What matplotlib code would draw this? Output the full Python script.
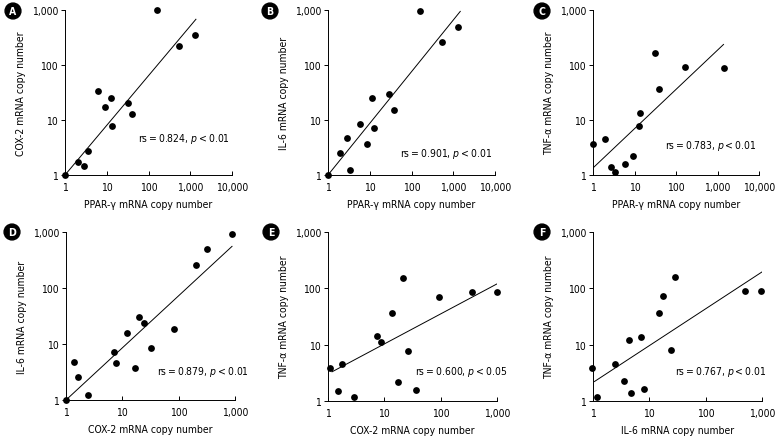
import numpy as np
from matplotlib import pyplot as plt
from matplotlib import font_manager
from matplotlib.ticker import FixedLocator, FixedFormatter, NullLocator

# pick a narrow sans if there is one
names = {(f.name, f.stretch) for f in font_manager.fontManager.ttflist}
fam_names = {n for n, s in names}
stretch = 'normal'
if 'Liberation Sans Narrow' in fam_names:
    fam = 'Liberation Sans Narrow'
elif ('DejaVu Sans', 'condensed') in names or ('DejaVu Sans', 'semi-condensed') in names:
    fam = 'DejaVu Sans'
    stretch = 'condensed'
else:
    fam = 'Roboto'

plt.rcParams['font.family'] = [fam, 'DejaVu Sans']
plt.rcParams['font.stretch'] = stretch
plt.rcParams['mathtext.fontset'] = 'custom'
plt.rcParams['mathtext.it'] = fam + ':italic'
plt.rcParams['mathtext.rm'] = fam

FS = 7.5

# ---- data ----
pparg_a = [1, 2.0, 2.9, 3.5, 6.1, 9.1, 12.7, 13.7, 32, 40, 158, 545, 1318]
cox2_a = [1, 1.7, 1.45, 2.7, 33, 17, 25, 7.7, 20, 12.6, 990, 223, 344]

pparg_b = [1, 1.9, 2.9, 3.3, 5.8, 8.6, 11.6, 12.7, 29.6, 37.7, 164, 535, 1270]
il6_b = [1, 2.5, 4.8, 1.23, 8.5, 3.6, 24.6, 7.2, 29.5, 15.4, 975, 260, 500]

pparg_c = [1, 1.9, 2.7, 3.4, 5.8, 9.1, 12.7, 13.5, 31, 39.5, 165, 1396]
tnfa_c = [3.7, 4.6, 1.38, 1.13, 1.6, 2.2, 7.8, 13.4, 162, 36.8, 91, 90]

cox2_d = [1, 1.4, 1.63, 2.5, 7.0, 7.6, 12.1, 16.6, 19.5, 24.2, 32.7, 82.6, 206, 318, 885]
il6_d = [1, 4.8, 2.6, 1.23, 7.2, 4.6, 15.5, 3.7, 30, 24, 8.6, 18.3, 254, 503, 933]

cox2_e = [1.1, 1.52, 1.77, 2.9, 7.4, 8.6, 13.7, 17.7, 21.7, 26.3, 36, 93, 365, 1000]
tnfa_e = [3.9, 1.5, 4.6, 1.16, 14.5, 11.3, 35.8, 2.2, 155, 7.8, 1.6, 70, 87, 87]

il6_f = [0.95, 1.18, 2.46, 3.5, 4.3, 4.7, 7.0, 8.1, 14.9, 17.7, 23.9, 29, 492, 947]
tnfa_f = [3.8, 1.18, 4.6, 2.3, 12.1, 1.4, 13.9, 1.64, 37, 74, 8.0, 161, 89.5, 89.5]

# regression lines in log-log space: log10(y) = icpt + slope*log10(x)
fit_lo = [1.0, 1.0, 1.04, 1.04, 1.18, 1.06]
fit_hi = [1368, 1472, 1397, 885, 986, 1000]
fit_slope = [0.903, 0.939, 0.714, 0.931, 0.533, 0.654]
fit_icpt = [0.0, 0.0, 0.128, 0.0, 0.48, 0.329]

rs_vals = ['0.824', '0.901', '0.783', '0.879', '0.600', '0.767']
p_vals = ['0.01', '0.01', '0.01', '0.01', '0.05', '0.01']
x_labels = ['PPAR-γ mRNA copy number'] * 3 + ['COX-2 mRNA copy number'] * 2 + ['IL-6 mRNA copy number']
y_labels = ['COX-2 mRNA copy number', 'IL-6 mRNA copy number', 'TNF-α mRNA copy number',
            'IL-6 mRNA copy number', 'TNF-α mRNA copy number', 'TNF-α mRNA copy number']
panel_letters = ['A', 'B', 'C', 'D', 'E', 'F']

xs = [pparg_a, pparg_b, pparg_c, cox2_d, cox2_e, il6_f]
ys = [cox2_a, il6_b, tnfa_c, il6_d, tnfa_e, tnfa_f]

# layout (pixels: left, right, top, bottom)
W, H = 777, 439
boxes = [(65, 232, 11, 176), (328, 495, 11, 176), (593, 759, 11, 176),
         (66, 235, 233, 401), (328, 497, 233, 402), (593, 762, 233, 402)]
text_pos = [(0.437, 0.224), (0.431, 0.133), (0.434, 0.18),
            (0.54, 0.173), (0.515, 0.178), (0.485, 0.178)]
letter_pos = [(13, 12), (270, 12), (542, 12), (12, 233), (271, 233), (542, 233)]

fig = plt.figure(figsize=(W / 100, H / 100), dpi=100)
th = '\u2009'

for i in range(6):
    l, r, t, b = boxes[i]
    ax = fig.add_axes([l / W, 1 - b / H, (r - l) / W, (b - t) / H])
    ax.set_xscale('log')
    ax.set_yscale('log')
    xmax = 10000 if i < 3 else 1000
    ax.set_xlim(1, xmax)
    ax.set_ylim(1, 1000)

    ax.scatter(xs[i], ys[i], s=24, color='black', zorder=3, clip_on=False, linewidths=0)
    lx = np.array([fit_lo[i], fit_hi[i]])
    ly = 10 ** (fit_icpt[i] + fit_slope[i] * np.log10(lx))
    ax.plot(lx, ly, color='black', lw=0.7)

    xt = [1, 10, 100, 1000, 10000][: 5 if i < 3 else 4]
    xl = ['1', '10', '100', '1,000', '10,000'][: len(xt)]
    ax.xaxis.set_major_locator(FixedLocator(xt))
    ax.xaxis.set_major_formatter(FixedFormatter(xl))
    ax.yaxis.set_major_locator(FixedLocator([1, 10, 100, 1000]))
    ax.yaxis.set_major_formatter(FixedFormatter(['1', '10', '100', '1,000']))
    ax.xaxis.set_minor_locator(NullLocator())
    ax.yaxis.set_minor_locator(NullLocator())
    ax.tick_params(axis='x', direction='in', length=3, width=0.7, labelsize=FS, pad=5)
    ax.tick_params(axis='y', direction='out', length=3, width=0.7, labelsize=FS, pad=2)

    for s in ['top', 'right']:
        ax.spines[s].set_visible(False)
    for s in ['left', 'bottom']:
        ax.spines[s].set_linewidth(0.7)

    ax.set_xlabel(x_labels[i], fontsize=FS, labelpad=5)
    ax.set_ylabel(y_labels[i], fontsize=FS, labelpad=4)
    label = 'rs' + th + '=' + th + rs_vals[i] + ', $p$' + th + '<' + th + p_vals[i]
    ax.text(text_pos[i][0], text_pos[i][1], label, transform=ax.transAxes,
            fontsize=FS, va='center', ha='left')

    px, py = letter_pos[i]
    fig.text(px / W, 1 - py / H, panel_letters[i], color='white', fontsize=7.5,
             fontweight='bold', ha='center', va='center', family='DejaVu Sans',
             bbox=dict(boxstyle='circle,pad=0.28', fc='black', ec='black'))

fig.savefig('out.png', dpi=100)
